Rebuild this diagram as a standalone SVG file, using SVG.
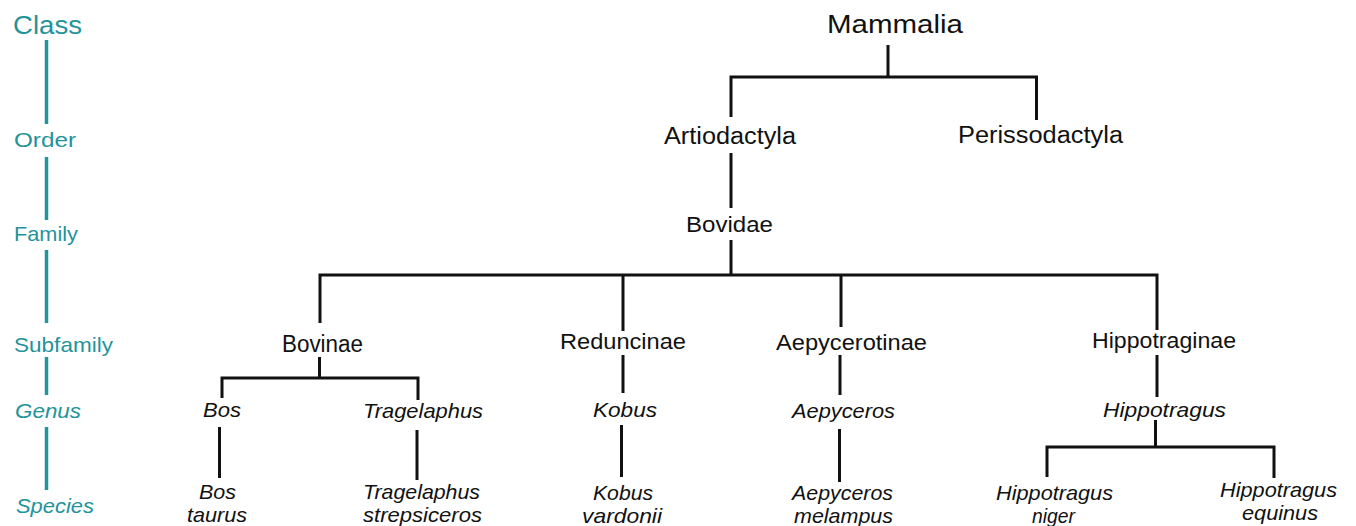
<svg xmlns="http://www.w3.org/2000/svg" width="1356" height="526" viewBox="0 0 1356 526">
<style>
text{font-family:"Liberation Sans",Arial,sans-serif;}
.rank{fill:#23939b;}
.t{fill:#111;}
.i{font-style:italic;}
.ax{stroke:#23939b;stroke-width:3.5;fill:none;}
.ln{stroke:#111;stroke-width:3;fill:none;stroke-linecap:butt;}
</style>
<rect width="1356" height="526" fill="#fff"/>
<g id="ranks">
<g id="rank-class"><text class="rank" x="13" y="34" font-size="25" textLength="69" lengthAdjust="spacingAndGlyphs">Class</text></g>
<g id="rank-order"><text class="rank" x="14" y="147" font-size="21" textLength="62" lengthAdjust="spacingAndGlyphs">Order</text></g>
<g id="rank-family"><text class="rank" x="14" y="241" font-size="21" textLength="64" lengthAdjust="spacingAndGlyphs">Family</text></g>
<g id="rank-subfamily"><text class="rank" x="14" y="352" font-size="21" textLength="99" lengthAdjust="spacingAndGlyphs">Subfamily</text></g>
<g id="rank-genus"><text class="rank i" x="15" y="418" font-size="21" textLength="66" lengthAdjust="spacingAndGlyphs">Genus</text></g>
<g id="rank-species"><text class="rank i" x="16" y="513" font-size="20" textLength="78" lengthAdjust="spacingAndGlyphs">Species</text></g>
</g>
<g id="connectors">
<path class="ax" d="M46.5 40V124M46.5 157V220M46.5 250V323M46.5 357V395M46.5 427V490"/>
<path class="ln" d="M888 45V77M731 77H1037M731 75.5V117M1036.5 75.5V120"/>
<path class="ln" d="M731 153V208M731 240V275"/>
<path class="ln" d="M320 275H1158M320 273.5V323M623 273.5V331M841 273.5V327M1157 273.5V330"/>
<path class="ln" d="M319.5 357V378M222 378H419M222 376.5V398M418 376.5V400"/>
<path class="ln" d="M623 355V393M840 355V395M1157 355V397"/>
<path class="ln" d="M219.5 427V478M417 430V480M621.5 425V477M839.5 429V482"/>
<path class="ln" d="M1155.5 420V447M1047 447H1275M1047 445.5V477M1274 445.5V478"/>
</g>
<g id="n-mammalia"><text class="t" x="827" y="33" font-size="26" textLength="136" lengthAdjust="spacingAndGlyphs">Mammalia</text></g>
<g id="n-artiodactyla"><text class="t" x="664" y="144" font-size="23" textLength="132" lengthAdjust="spacingAndGlyphs">Artiodactyla</text></g>
<g id="n-perissodactyla"><text class="t" x="958" y="143" font-size="23" textLength="165" lengthAdjust="spacingAndGlyphs">Perissodactyla</text></g>
<g id="n-bovidae"><text class="t" x="686" y="232" font-size="22" textLength="87" lengthAdjust="spacingAndGlyphs">Bovidae</text></g>
<g id="n-bovinae"><text class="t" x="282" y="352" font-size="23" textLength="81" lengthAdjust="spacingAndGlyphs">Bovinae</text></g>
<g id="n-reduncinae"><text class="t" x="560" y="349" font-size="22" textLength="126" lengthAdjust="spacingAndGlyphs">Reduncinae</text></g>
<g id="n-aepycerotinae"><text class="t" x="776" y="350" font-size="22" textLength="151" lengthAdjust="spacingAndGlyphs">Aepycerotinae</text></g>
<g id="n-hippotraginae"><text class="t" x="1092" y="348" font-size="22" textLength="144" lengthAdjust="spacingAndGlyphs">Hippotraginae</text></g>
<g id="n-bos"><text class="t i" x="203" y="417" font-size="21" textLength="38" lengthAdjust="spacingAndGlyphs">Bos</text></g>
<g id="n-tragelaphus"><text class="t i" x="363" y="418" font-size="21" textLength="120" lengthAdjust="spacingAndGlyphs">Tragelaphus</text></g>
<g id="n-kobus"><text class="t i" x="593" y="417" font-size="21" textLength="64" lengthAdjust="spacingAndGlyphs">Kobus</text></g>
<g id="n-aepyceros"><text class="t i" x="792" y="418" font-size="21" textLength="103" lengthAdjust="spacingAndGlyphs">Aepyceros</text></g>
<g id="n-hippotragus"><text class="t i" x="1103" y="417" font-size="21" textLength="123" lengthAdjust="spacingAndGlyphs">Hippotragus</text></g>
<g id="n-bos-taurus"><text class="t i" font-size="21"><tspan x="199" y="499" textLength="37" lengthAdjust="spacingAndGlyphs">Bos</tspan><tspan x="187" y="522" textLength="60" lengthAdjust="spacingAndGlyphs">taurus</tspan></text></g>
<g id="n-tragelaphus-strepsiceros"><text class="t i" font-size="21"><tspan x="363" y="499" textLength="117" lengthAdjust="spacingAndGlyphs">Tragelaphus</tspan><tspan x="363" y="522" textLength="119" lengthAdjust="spacingAndGlyphs">strepsiceros</tspan></text></g>
<g id="n-kobus-vardonii"><text class="t i" font-size="21"><tspan x="593" y="500" textLength="60" lengthAdjust="spacingAndGlyphs">Kobus</tspan><tspan x="582" y="523" textLength="80" lengthAdjust="spacingAndGlyphs">vardonii</tspan></text></g>
<g id="n-aepyceros-melampus"><text class="t i" font-size="21"><tspan x="792" y="500" textLength="101" lengthAdjust="spacingAndGlyphs">Aepyceros</tspan><tspan x="794" y="523" textLength="99" lengthAdjust="spacingAndGlyphs">melampus</tspan></text></g>
<g id="n-hippotragus-niger"><text class="t i" font-size="21"><tspan x="996" y="500" textLength="117" lengthAdjust="spacingAndGlyphs">Hippotragus</tspan><tspan x="1032" y="523" textLength="43" lengthAdjust="spacingAndGlyphs">niger</tspan></text></g>
<g id="n-hippotragus-equinus"><text class="t i" font-size="21"><tspan x="1220" y="497" textLength="117" lengthAdjust="spacingAndGlyphs">Hippotragus</tspan><tspan x="1242" y="520" textLength="76" lengthAdjust="spacingAndGlyphs">equinus</tspan></text></g>
</svg>
